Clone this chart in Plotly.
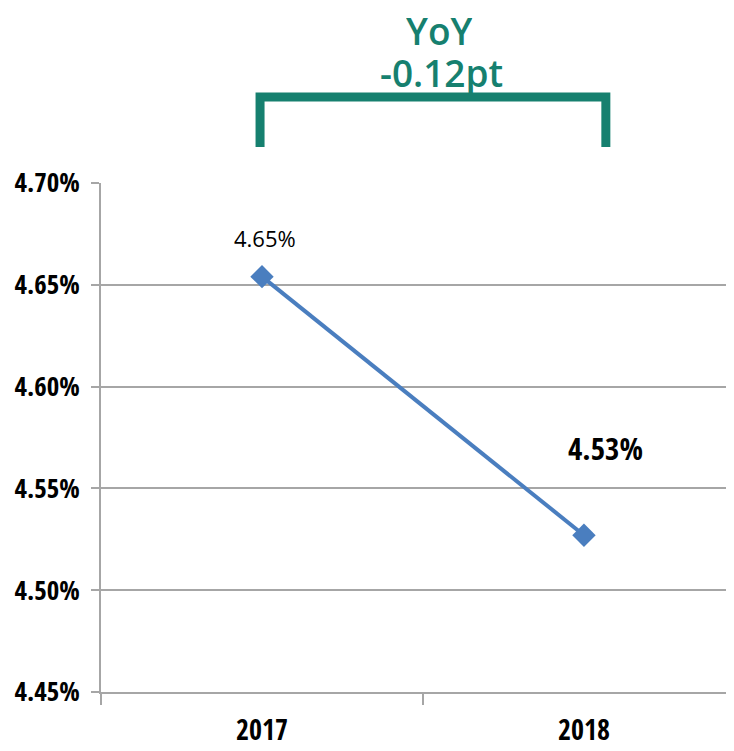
import plotly.graph_objects as go

years = ["2017", "2018"]
rates = [4.654, 4.527]
label_texts = ["4.65%", "4.53%"]
y_ticks = [4.45, 4.50, 4.55, 4.60, 4.65, 4.70]
y_tick_labels = ["4.45%", "4.50%", "4.55%", "4.60%", "4.65%", "4.70%"]
yoy_title = "YoY"
yoy_value = "-0.12pt"

# the page body has an 8px margin, so the figure is drawn 8px in from the window corner
OFF = 8
W, H = 734 - OFF, 751 - OFF
L = 101 - OFF
T = 183 - OFF
B = H - (692 - OFF)
plot_h = H - T - B
plot_w = W - L

def py(screen_y):
    return (692 - screen_y) / plot_h

def px(screen_x):
    return (screen_x - 101) / plot_w

COND = "Open Sans Condensed, Roboto Condensed, DejaVu Sans Condensed, sans-serif"
TEAL = "#16806F"
BLUE = "#4A7EBF"
GRID = "#A6A6A6"

fig = go.Figure()
fig.add_trace(go.Scatter(
    x=years, y=rates, mode="lines+markers",
    line=dict(color=BLUE, width=4),
    marker=dict(symbol="diamond", size=18, color=BLUE),
    cliponaxis=False, showlegend=False, hoverinfo="skip",
))

# data labels (x given as category index)
fig.add_annotation(x=0, y=rates[0], text=label_texts[0], showarrow=False,
                   xshift=3, yshift=39,
                   font=dict(family="Open Sans", size=22, color="#000000"))
fig.add_annotation(x=1, y=rates[1], text=label_texts[1], showarrow=False,
                   xshift=22, yshift=87,
                   font=dict(family=COND, size=31, color="#000000", weight="bold"))

# YoY bracket
x0, x1 = -0.006, 1.068
ytop, ybot = py(97), py(147)
fig.add_shape(type="path", xref="x", yref="paper",
              path=f"M {x0},{ybot} L {x0},{ytop} L {x1},{ytop} L {x1},{ybot}",
              line=dict(color=TEAL, width=9))
fig.add_annotation(xref="paper", yref="paper", x=px(439), y=py(30), height=42,
                   text=yoy_title, showarrow=False, xanchor="center", yanchor="middle",
                   font=dict(family="Open Sans", size=37, color=TEAL, weight=600))
fig.add_annotation(xref="paper", yref="paper", x=px(441), y=py(72), height=42,
                   text=yoy_value, showarrow=False, xanchor="center", yanchor="middle",
                   font=dict(family="Open Sans", size=37, color=TEAL, weight=600))

fig.update_layout(
    width=W, height=H,
    margin=dict(l=L, r=0, t=T, b=B, pad=0, autoexpand=False),
    plot_bgcolor="white", paper_bgcolor="white",
    xaxis=dict(type="category", range=[-0.5, 1.466], showgrid=False, automargin=False,
               showline=True, linecolor=GRID, linewidth=1.5,
               ticks="outside", tickson="boundaries", ticklen=11, tickcolor=GRID, tickwidth=1.5,
               tickfont=dict(family=COND, size=28, color="#000000", weight="bold"),
               ticklabelstandoff=13, zeroline=False, fixedrange=True),
    yaxis=dict(range=[4.45, 4.70], tickvals=y_ticks, ticktext=y_tick_labels, automargin=False,
               showgrid=True, gridcolor=GRID, gridwidth=1.5,
               showline=True, linecolor=GRID, linewidth=1.5,
               ticks="outside", ticklen=8, tickcolor=GRID, tickwidth=1.5,
               tickfont=dict(family=COND, size=27, color="#000000", weight="bold"),
               ticklabelstandoff=6, zeroline=False, fixedrange=True),
)

fig.write_html("out.html")
